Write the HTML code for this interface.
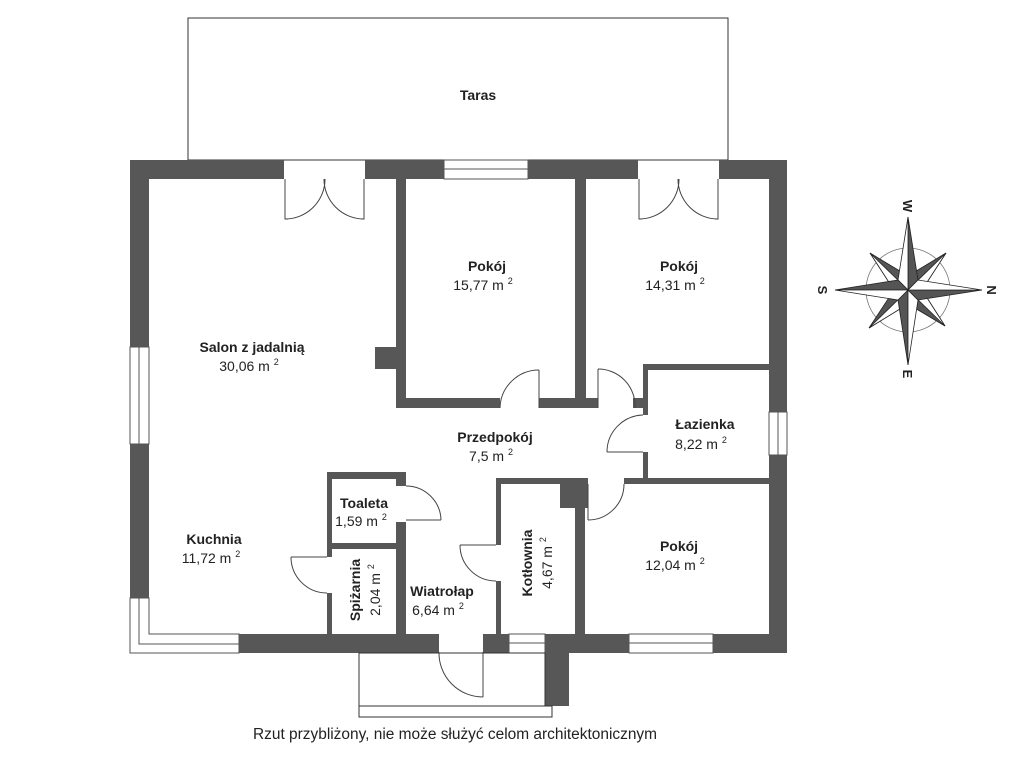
<!DOCTYPE html>
<html><head><meta charset="utf-8"><style>
html,body{margin:0;padding:0;background:#fff;}
svg{display:block}
text{font-family:"Liberation Sans",sans-serif;fill:#222;}
.b{font-weight:bold;font-size:14px}
.n{font-size:14px}
</style></head><body>
<svg width="1024" height="768" viewBox="0 0 1024 768" xmlns="http://www.w3.org/2000/svg">
<rect x="188" y="18" width="540" height="142" fill="none" stroke="#333" stroke-width="1"/>
<g fill="#575757">
<rect x="130" y="160" width="154" height="19"/>
<rect x="365" y="160" width="79" height="19"/>
<rect x="528" y="160" width="110" height="19"/>
<rect x="719" y="160" width="68" height="19"/>
<rect x="130" y="160" width="19" height="187"/>
<rect x="130" y="444" width="19" height="154"/>
<rect x="769" y="160" width="18" height="252"/>
<rect x="769" y="455" width="18" height="198"/>
<rect x="239" y="634" width="200" height="19"/>
<rect x="483" y="634" width="26" height="19"/>
<rect x="545" y="634" width="84" height="19"/>
<rect x="713" y="634" width="74" height="19"/>
<rect x="545" y="634" width="24" height="72"/>
<rect x="396" y="179" width="10" height="229"/>
<rect x="375" y="347" width="21" height="22"/>
<rect x="396" y="398" width="104" height="10"/>
<rect x="539" y="398" width="59" height="10"/>
<rect x="633" y="398" width="10" height="10"/>
<rect x="575" y="179" width="11" height="229"/>
<rect x="643" y="364" width="127" height="6"/>
<rect x="643" y="364" width="5" height="51"/>
<rect x="643" y="452" width="5" height="32"/>
<rect x="624" y="478" width="146" height="6"/>
<rect x="585" y="478" width="2" height="6"/>
<rect x="496" y="478" width="92" height="6"/>
<rect x="496" y="478" width="5" height="67"/>
<rect x="496" y="581" width="5" height="53"/>
<rect x="560" y="478" width="28" height="30"/>
<rect x="575" y="478" width="10" height="156"/>
<rect x="327" y="472" width="79" height="7"/>
<rect x="327" y="472" width="5" height="85"/>
<rect x="327" y="593" width="5" height="41"/>
<rect x="396" y="472" width="10" height="14"/>
<rect x="396" y="522" width="10" height="112"/>
<rect x="327" y="543" width="79" height="6"/>
</g>
<g fill="#fff" stroke="#555" stroke-width="1">
<rect x="444" y="160" width="84" height="19"/><line x1="444" y1="169" x2="528" y2="169"/>
<rect x="130" y="347" width="19" height="97"/><line x1="139" y1="347" x2="139" y2="444"/>
<rect x="769" y="412" width="18" height="43"/><line x1="778" y1="412" x2="778" y2="455"/>
<rect x="629" y="634" width="84" height="19"/><line x1="629" y1="643" x2="713" y2="643"/>
<rect x="509" y="634" width="36" height="19"/><line x1="509" y1="643" x2="545" y2="643"/>
<path d="M130,598 V653 H239 V634 H149 V598 Z"/><path d="M139,598 V644 H239" fill="none"/>
</g>
<rect x="359" y="653" width="186" height="53" fill="none" stroke="#333"/>
<rect x="359" y="706" width="193" height="11" fill="none" stroke="#333"/>
<g fill="none" stroke="#444" stroke-width="1">
<path d="M285,179 V219 H288"/><path d="M285,219 A40,40 0 0 0 325,179"/>
<path d="M364,179 V219 H361"/><path d="M364,219 A40,40 0 0 1 324,179"/>
<path d="M639,179 V219 H642"/><path d="M639,219 A40,40 0 0 0 679,179"/>
<path d="M718,179 V219 H715"/><path d="M718,219 A40,40 0 0 1 678,179"/>
<path d="M539,408 V370"/><path d="M539,370 A39,39 0 0 0 500,408"/>
<path d="M598,408 V369"/><path d="M598,369 A37,37 0 0 1 635,408"/>
<path d="M643,452 H607"/><path d="M607,452 A37,37 0 0 1 643,415"/>
<path d="M588,484 V520"/><path d="M588,520 A36,36 0 0 0 624,484"/>
<path d="M406,520 H441"/><path d="M441,520 A35,35 0 0 0 406,486"/>
<path d="M327,557 H291"/><path d="M291,557 A36,36 0 0 0 327,593"/>
<path d="M496,545 H460"/><path d="M460,545 A36,36 0 0 0 496,581"/>
<path d="M483,652 V697"/><path d="M439,652 A44,44 0 0 0 483,697"/>
</g>
<g text-anchor="middle">
<text x="478" y="100" class="b">Taras</text>
<text x="487" y="271" class="b">Pokój</text><text x="483" y="290" class="n">15,77 m <tspan font-size="9" dy="-6">2</tspan></text>
<text x="679" y="271" class="b">Pokój</text><text x="675" y="290" class="n">14,31 m <tspan font-size="9" dy="-6">2</tspan></text>
<text x="252" y="352" class="b">Salon z jadalnią</text><text x="249" y="371" class="n">30,06 m <tspan font-size="9" dy="-6">2</tspan></text>
<text x="705" y="429" class="b">Łazienka</text><text x="701" y="449" class="n">8,22 m <tspan font-size="9" dy="-6">2</tspan></text>
<text x="495" y="442" class="b">Przedpokój</text><text x="491" y="461" class="n">7,5 m <tspan font-size="9" dy="-6">2</tspan></text>
<text x="364" y="508" class="b">Toaleta</text><text x="361" y="526" class="n">1,59 m <tspan font-size="9" dy="-6">2</tspan></text>
<text x="214" y="544" class="b">Kuchnia</text><text x="211" y="563" class="n">11,72 m <tspan font-size="9" dy="-6">2</tspan></text>
<text x="442" y="596" class="b">Wiatrołap</text><text x="438" y="615" class="n">6,64 m <tspan font-size="9" dy="-6">2</tspan></text>
<text x="679" y="551" class="b">Pokój</text><text x="675" y="570" class="n">12,04 m <tspan font-size="9" dy="-6">2</tspan></text>
<text transform="translate(360,590) rotate(-90)" class="b">Spiżarnia</text>
<text transform="translate(380,590) rotate(-90)" class="n">2,04 m <tspan font-size="9" dy="-6">2</tspan></text>
<text transform="translate(532,563) rotate(-90)" class="b">Kotłownia</text>
<text transform="translate(552,563) rotate(-90)" class="n">4,67 m <tspan font-size="9" dy="-6">2</tspan></text>
<text x="455" y="739" font-size="15.5" textLength="404" lengthAdjust="spacingAndGlyphs">Rzut przybliżony, nie może służyć celom architektonicznym</text>
</g>
<g stroke="#222" stroke-width="0.8">
<circle cx="908" cy="290" r="42" fill="none" stroke="#777"/>
<polygon points="870,253 908,276 894,290" fill="#555"/><polygon points="870,253 894,290 908,290" fill="#fff"/>
<polygon points="946,253 922,290 908,276" fill="#555"/><polygon points="946,253 908,290 922,290" fill="#fff"/>
<polygon points="869,328 894,290 908,304" fill="#555"/><polygon points="869,328 908,304 908,290" fill="#fff"/>
<polygon points="945,326 908,304 922,290" fill="#555"/><polygon points="945,326 922,290 908,290" fill="#fff"/>
<polygon points="908,217 918,280 908,290" fill="#555"/><polygon points="908,217 898,280 908,290" fill="#fff"/>
<polygon points="908,365 898,300 908,290" fill="#555"/><polygon points="908,365 918,300 908,290" fill="#fff"/>
<polygon points="835,290 898,280 908,290" fill="#555"/><polygon points="835,290 898,300 908,290" fill="#fff"/>
<polygon points="982,290 918,300 908,290" fill="#555"/><polygon points="982,290 918,280 908,290" fill="#fff"/>
</g>
<g font-weight="bold" font-size="13" text-anchor="middle">
<text transform="translate(903,206) rotate(90)">W</text>
<text transform="translate(903,374) rotate(90)">E</text>
<text transform="translate(822,290) rotate(90)" dy="4">S</text>
<text transform="translate(991,290) rotate(90)" dy="4">N</text>
</g>
</svg>
</body></html>
